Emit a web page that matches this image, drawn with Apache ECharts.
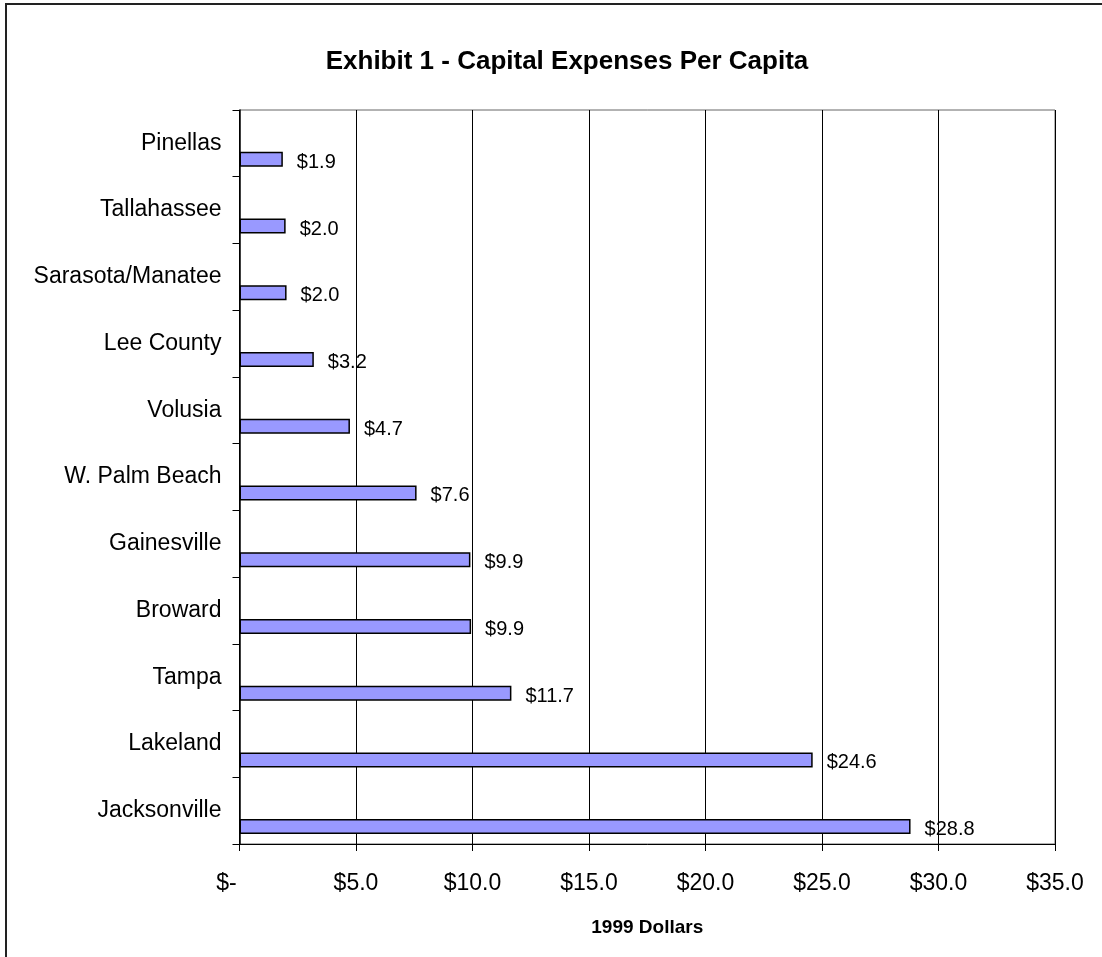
<!DOCTYPE html>
<html>
<head>
<meta charset="utf-8">
<script src="https://cdn.jsdelivr.net/npm/echarts@6/dist/echarts.min.js"></script>
<style>
  html, body { margin: 0; padding: 0; background: #fff; }
  #chart { width: 1102px; height: 957px; }
</style>
</head>
<body>
<div id="chart"></div>
<script>
  // categories top to bottom
  const regions = ['Pinellas', 'Tallahassee', 'Sarasota/Manatee', 'Lee County', 'Volusia',
    'W. Palm Beach', 'Gainesville', 'Broward', 'Tampa', 'Lakeland', 'Jacksonville'];
  const capitalPerCapita = [1.86, 1.98, 2.02, 3.19, 4.74, 7.6, 9.91, 9.94, 11.67, 24.6, 28.8];
  const xTicks = [0, 5, 10, 15, 20, 25, 30, 35];

  const font = '"Liberation Sans", Arial, sans-serif';
  const chart = echarts.init(document.getElementById('chart'));

  const option = {
    backgroundColor: '#fff',
    animation: false,
    textStyle: { fontFamily: font, color: '#000' },
    title: {
      text: 'Exhibit 1 - Capital Expenses Per Capita',
      left: 562,
      top: 44,
      textAlign: 'center',
      textStyle: { fontFamily: font, fontSize: 26, fontWeight: 'bold', color: '#000' }
    },
    graphic: [{
      type: 'rect',
      shape: { x: 6, y: 4, width: 1300, height: 1200 },
      style: { fill: null, stroke: '#222', lineWidth: 2 },
      silent: true
    }],
    grid: {
      left: 239.5, top: 110, right: 47, bottom: 113,
      show: true, borderColor: '#666', borderWidth: 1
    },
    xAxis: {
      type: 'value',
      min: xTicks[0],
      max: xTicks[xTicks.length - 1],
      interval: 5,
      name: '1999 Dollars',
      nameLocation: 'middle',
      nameGap: 74,
      nameTextStyle: { fontFamily: font, fontSize: 19, fontWeight: 'bold', color: '#000' },
      axisLine: { show: true, lineStyle: { color: '#000', width: 1 } },
      axisTick: { show: true, length: 7, lineStyle: { color: '#000' } },
      splitLine: { show: true, lineStyle: { color: '#000', width: 1 } },
      axisLabel: {
        fontFamily: font, fontSize: 23, color: '#000', margin: 28,
        formatter: v => v === 0 ? '{z|$-}' : '$' + v.toFixed(1),
        rich: {
          z: { fontFamily: font, fontSize: 23, color: '#000', padding: [0, 26, 0, 0] }
        }
      }
    },
    yAxis: {
      type: 'category',
      inverse: true,
      data: regions,
      axisLine: { show: true, lineStyle: { color: '#000', width: 1.5 } },
      axisTick: { show: true, length: 7, lineStyle: { color: '#000' } },
      splitLine: { show: false },
      axisLabel: {
        fontFamily: font, fontSize: 23, color: '#000', margin: 18,
        padding: [6, 0, 0, 0]
      }
    },
    series: [
      {
        // empty slot so the bar sits in the lower half of each band
        type: 'bar',
        data: regions.map(() => null),
        barWidth: 15,
        silent: true
      },
      {
        type: 'bar',
        data: capitalPerCapita,
        barWidth: 15,
        barGap: '113%',
        itemStyle: { color: '#9999FF', borderColor: '#000', borderWidth: 1.5 },
        label: {
          show: true,
          position: 'right',
          distance: 14,
          offset: [0, 3],
          fontFamily: font,
          fontSize: 20,
          color: '#000',
          formatter: p => '$' + p.value.toFixed(1)
        }
      }
    ]
  };

  chart.setOption(option);
</script>
</body>
</html>
